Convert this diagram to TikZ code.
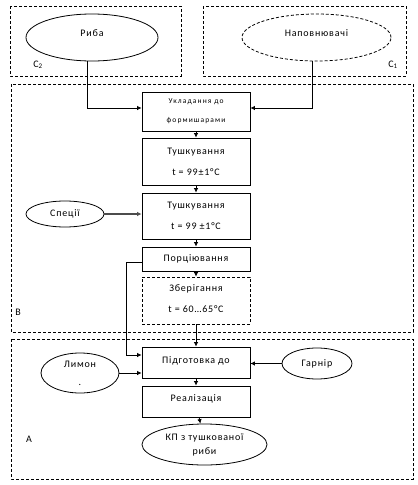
\documentclass[tikz,border=0pt]{standalone}
\usepackage{fontspec}
\setmainfont{Carlito}[LetterSpace=8]
\newfontfamily\smallspaced{Carlito}[LetterSpace=15]
\usetikzlibrary{shapes.geometric,arrows.meta}
\begin{document}
\begin{tikzpicture}[x=1pt,y=-1pt,
  font=\fontsize{10}{21}\selectfont,
  lw/.style={line width=0.8pt},
  dsh/.style={lw,dash pattern=on 3pt off 2pt},
  frame/.style={dsh},
  stepbox/.style={draw,lw,minimum width=108pt,inner sep=0pt,align=center},
  oval/.style={draw,lw,ellipse,inner sep=0pt,align=center},
  arr/.style={lw,-{Latex[length=4.5pt,width=4.5pt]}},
  lbl/.style={inner sep=0pt}]
\useasboundingbox (0,0) rectangle (418,485);
% frames
\draw[frame] (10,6) rectangle (181,76);
\draw[frame] (203,6) rectangle (406,76);
\draw[frame] (11,84) rectangle (413,332);
\draw[frame] (11,339) rectangle (413,479);
\node[lbl] (c2) at (38,65) {C\textsubscript{2}};
\node[lbl] (c1) at (393,65) {C\textsubscript{1}};
\node[lbl] (lb) at (18,312) {B};
\node[lbl] (la) at (29,439) {A};
% ellipses
\node[oval,minimum width=132pt,minimum height=47pt] (ryba) at (92,37.5) {\raisebox{9pt}{Риба}};
\node[oval,dsh,minimum width=149pt,minimum height=47pt] (napov) at (316.5,37.5) {\raisebox{9pt}{Наповнювачі}};
\node[oval,minimum width=78pt,minimum height=26pt] (spec) at (65,214) {Спеції};
\node[oval,minimum width=78pt,minimum height=40pt,font=\fontsize{10}{18}\selectfont] (lemon) at (80,373) {Лимон\\.};
\node[oval,minimum width=70pt,minimum height=31pt] (garn) at (317,363.5) {Гарнір};
\node[oval,minimum width=125pt,minimum height=41pt,font=\fontsize{10}{14}\selectfont] (kp) at (204.5,444.5) {КП з тушкованої\\риби};
% boxes
\node[stepbox,minimum height=39pt,font=\smallspaced\fontsize{7.5}{19}\selectfont] (uklad) at (196,111.5) {\raisebox{2pt}{Укладання до}\\\raisebox{2pt}{формишарами}};
\node[stepbox,minimum height=47pt] (tush1) at (196,161.5) {Тушкування\\t = 99±1°C};
\node[stepbox,minimum height=46pt] (tush2) at (196,216) {Тушкування\\t = 99 ±1°C};
\node[stepbox,minimum height=24pt] (porc) at (196,259) {Порціювання};
\node[stepbox,dsh,minimum height=47pt] (zber) at (196,300.5) {\raisebox{3pt}{Зберігання}\\\raisebox{3pt}{t = 60…65°C}};
\node[stepbox,minimum height=31pt] (pidg) at (196,362.5) {\raisebox{4pt}{Підготовка до}};
\node[stepbox,minimum height=31pt] (real) at (196,401.5) {\raisebox{6pt}{Реалізація}};
% connectors
\draw[arr] ([xshift=-5pt]ryba.south) |- ([yshift=3.5pt]uklad.west);
\draw[arr] ([xshift=-4.5pt]napov.south) |- ([yshift=3.5pt]uklad.east);
\draw[arr] (uklad) -- (tush1);
\draw[arr] (tush1) -- (tush2);
\draw[arr,draw=gray!60!black,line width=1.2pt] (spec.east) -- (spec.east -| tush2.west);
\draw[arr] (tush2) -- (porc);
\draw[arr] (porc) -- (zber);
\coordinate (pl) at ([yshift=-3pt]porc.west);
\draw[arr] (pl) -- ++(-15,0) |- ([yshift=7.5pt]pidg.west);
\draw[arr] (zber) -- (pidg);
\draw[arr] (lemon.east) -- (lemon.east -| pidg.west);
\draw[arr] (garn.west) -- (garn.west -| pidg.east);
\draw[arr] (pidg) -- (real);
\draw[arr] (real) -- (kp);
\end{tikzpicture}
\end{document}
